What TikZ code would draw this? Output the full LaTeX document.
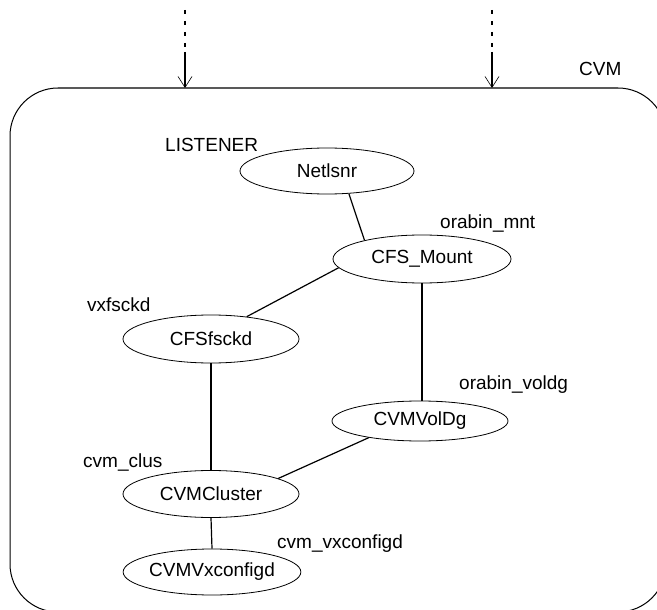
\documentclass[tikz,border=0pt]{standalone}
\usepackage{fontspec}
\setmainfont{Liberation Sans}
\usetikzlibrary{shapes.geometric,arrows.meta}

\tikzset{
  res/.style={ellipse, draw=black, line width=0.8pt, inner sep=0pt,
              minimum width=176pt, minimum height=46pt},
  tag/.style={anchor=base west, inner sep=0pt},
  link/.style={draw=black, line width=1.2pt},
  feed/.style={draw=black, line width=1.7pt, dash pattern=on 4.5pt off 6.5pt},
  entry/.style={draw=black, line width=1.1pt,
                -{Straight Barb[length=11pt,width=14pt,line width=0.6pt]}},
}

\begin{document}
\begin{tikzpicture}[x=1pt, y=-1pt, font=\fontsize{19}{22}\selectfont]
  \useasboundingbox (0,0) rectangle (657,610);
  \clip (0,0) rectangle (657,610);

  % service group frame
  \draw[line width=1pt, rounded corners=48pt] (10,88) rectangle (666,612);
  \draw[line width=1.3pt, draw=black!65] (58,88) -- (618,88);
  \node[tag] (grp) at (579,76) {CVM};

  % incoming dependencies from above
  \coordinate (inA) at (185,10);
  \coordinate (midA) at (185,52);
  \coordinate (endA) at (185,88);
  \coordinate (inB) at (492,10);
  \coordinate (midB) at (492,52);
  \coordinate (endB) at (492,88);
  \draw[feed] (inA) -- (midA);
  \draw[entry] (midA) -- (endA);
  \draw[feed] (inB) -- (midB);
  \draw[entry] (midB) -- (endB);

  % resources
  \node[res, minimum width=174pt] (net)   at (327,171) {Netlsnr};
  \node[res, minimum width=178pt, minimum height=48pt] (mount) at (422,259) {CFS\_Mount};
  \node[res, minimum height=48pt] (fsck)  at (211,339) {CFSfsckd};
  \node[res, minimum height=40pt] (voldg) at (420,421) {CVMVolDg};
  \node[res, minimum height=47pt] (clus)  at (211,494) {CVMCluster};
  \node[res, minimum width=168pt] (vxcfg) at (212,572) {CVMVxconfigd};

  % resource names
  \node[tag] (lnet)   at (165,151) {LISTENER};
  \node[tag] (lmount) at (440,228) {orabin\_mnt};
  \node[tag] (lfsck)  at (87,311)  {vxfsckd};
  \node[tag] (lvoldg) at (459,389) {orabin\_voldg};
  \node[tag] (lclus)  at (83,467)  {cvm\_clus};
  \node[tag] (lvxcfg) at (277,548) {cvm\_vxconfigd};

  % dependency links
  \draw[link] (net.-46) -- (mount.162);
  \draw[link] (mount.186) -- (fsck.32);
  \draw[link] (mount.south) -- (mount.south |- voldg.north);
  \draw[link] (clus.north |- fsck.south) -- (clus.north);
  \draw[link] (voldg.198) -- (clus.13);
  \draw[link] (clus.south) -- (vxcfg.north);
\end{tikzpicture}
\end{document}
